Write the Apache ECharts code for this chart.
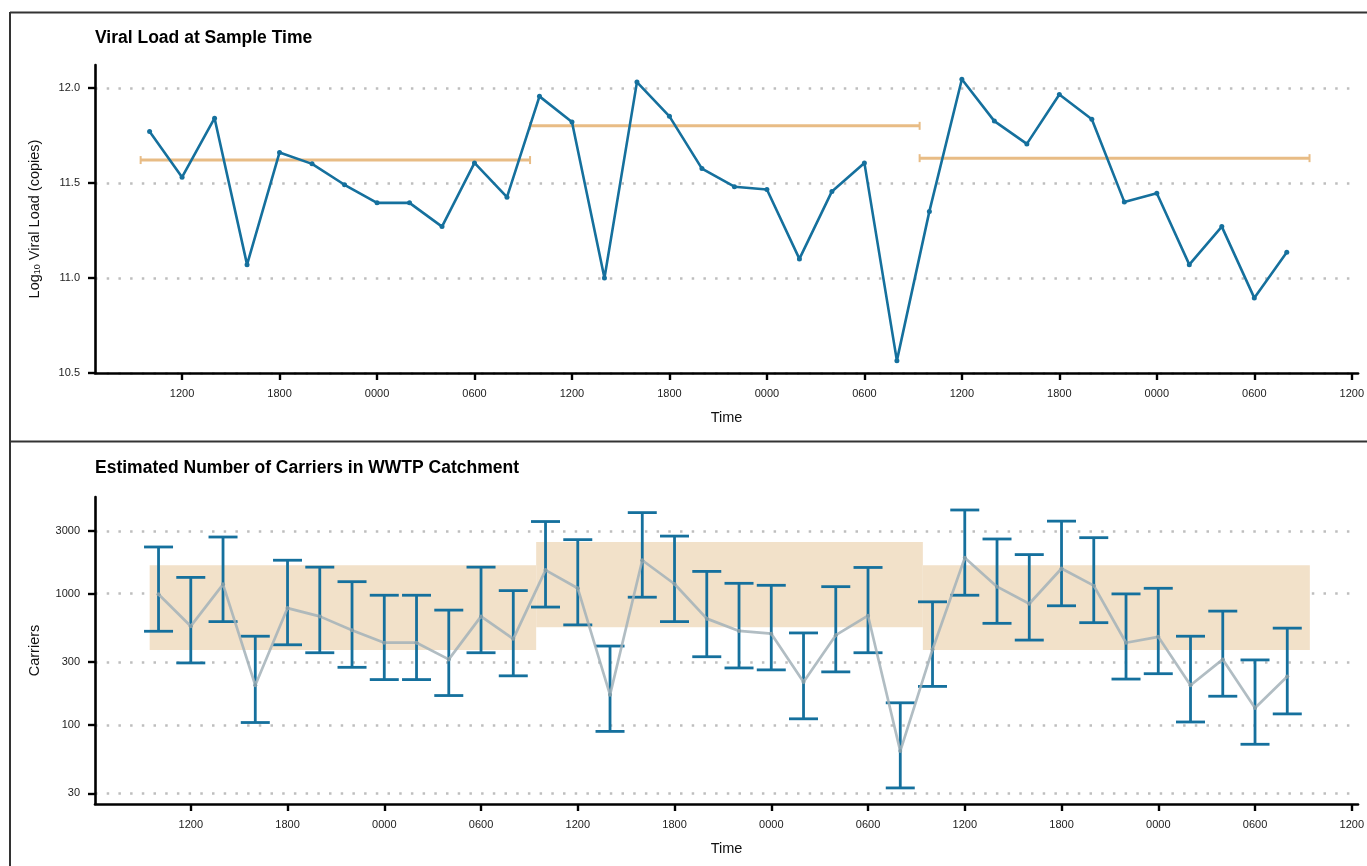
<!DOCTYPE html>
<html>
<head>
<meta charset="utf-8">
<script src="https://cdn.jsdelivr.net/npm/echarts@6/dist/echarts.min.js"></script>
<style>
html,body{margin:0;padding:0;background:#fff;}
#chart{width:1367px;height:866px;}
</style>
</head>
<body>
<div id="chart"></div>
<script>
// Sample times in hours from midnight of day 1
var sampleHours = [10,12,14,16,18,20,22,24,26,28,30,32,34,36,38,40,42,44,46,48,50,52,54,56,58,60,62,64,66,68,70,72,74,76,78,80];
// Top panel: log10 viral load
var viralLoad = [11.77,11.53,11.84,11.07,11.66,11.60,11.49,11.395,11.395,11.27,11.605,11.425,11.955,11.82,11.00,12.03,11.85,11.575,11.48,11.465,11.10,11.455,11.605,10.565,11.35,12.045,11.825,11.705,11.965,11.835,11.40,11.445,11.07,11.27,10.895,11.135];
// 24 h windows and their mean viral load
var windowStart = [9.45, 33.42, 57.4];
var windowEnd = [33.42, 57.4, 81.4];
var windowMean = [11.62, 11.80, 11.63];
// Bottom panel: estimated carriers and interval
var carriers = [989,564,1176,200,775,670,525,422,422,315,670,452,1510,1097,169,1795,1183,644,519,495,212,482,678,63,375,1871,1129,836,1553,1149,422,468,200,315,134,233];
var carriersLow = [516,296,611,104,407,354,274,221,221,167,354,236,789,577,89,938,611,330,271,262,111,253,354,33,196,971,593,442,807,600,223,245,105,165,71,121];
var carriersHigh = [2265,1328,2698,473,1795,1590,1232,971,971,748,1590,1053,3540,2576,398,4140,2742,1475,1197,1156,501,1129,1581,147,865,4335,2606,1982,3565,2667,994,1097,473,735,312,545];
var bandLow = [371, 553, 371];
var bandHigh = [1640, 2470, 1645];
// Tick values
var timeTicks = [12,18,24,30,36,42,48,54,60,66,72,78,84];
var vlTicks = [10.5, 11.0, 11.5, 12.0];
var carrierTicks = [30, 100, 300, 1000, 3000];

var BLUE = '#15709D';
var ORANGE = '#E8BC85';
var BAND = '#F2E1C9';
var GRAY = 'rgba(163,178,184,0.85)';
var FONT = '"Liberation Sans", Arial, sans-serif';

function lg(v){ return Math.log10(v); }
function hourLabel(v){
  var h = Math.round(v) % 24;
  var s = String(h * 100);
  while (s.length < 4) s = '0' + s;
  return s;
}

var gridLine = {show:true, lineStyle:{color:'#BEBEBE', width:2.5, type:[2.5, 9.2]}};
var axLine = {show:true, onZero:false, lineStyle:{color:'#000', width:2.6}};
var axTick = {show:true, length:7, lineStyle:{color:'#000', width:2.4}};
var tickLabel = {color:'#222', fontSize:11, fontFamily:FONT};
var nameStyle = {color:'#111', fontSize:14.5, fontFamily:FONT};

function xAxisCfg(gi, min){
  return {
    type:'value', gridIndex:gi, min:min, max:84.39,
    name:'Time', nameLocation:'middle', nameGap:37, nameTextStyle:nameStyle,
    axisLine:axLine,
    axisTick:Object.assign({customValues:timeTicks}, axTick),
    axisLabel:Object.assign({customValues:timeTicks, margin:15, formatter:hourLabel}, tickLabel),
    splitLine:{show:false}
  };
}

var errorData = sampleHours.map(function(t,i){ return [t, lg(carriersLow[i]), lg(carriersHigh[i])]; });
var bandData = windowStart.map(function(s,i){ return [s, windowEnd[i], lg(bandLow[i]), lg(bandHigh[i])]; });
var meanData = windowStart.map(function(s,i){ return [s, windowEnd[i], windowMean[i]]; });

var option = {
  animation:false,
  backgroundColor:'#fff',
  title:[
    {text:'Viral Load at Sample Time', left:95, top:29, padding:0,
     textStyle:{fontSize:17.5, fontWeight:'bold', color:'#000', fontFamily:FONT}},
    {text:'Estimated Number of Carriers in WWTP Catchment', left:95, top:459, padding:0,
     textStyle:{fontSize:17.5, fontWeight:'bold', color:'#000', fontFamily:FONT}}
  ],
  grid:[
    {left:95, right:8, top:65, height:308},
    {left:95, right:8, top:497, height:307}
  ],
  xAxis:[ xAxisCfg(0, 6.64), xAxisCfg(1, 6.06) ],
  yAxis:[
    {type:'value', gridIndex:0, min:10.5, max:12.12,
     name:'Log{sub|10} Viral Load (copies)', nameLocation:'middle', nameGap:53,
     nameTextStyle:Object.assign({rich:{sub:{fontSize:9, verticalAlign:'bottom', padding:[6,0,0,0], fontFamily:FONT, color:'#111'}}}, nameStyle),
     axisLine:axLine,
     axisTick:Object.assign({customValues:vlTicks}, axTick),
     axisLabel:Object.assign({customValues:vlTicks, margin:15, formatter:function(v){return v.toFixed(1);}}, tickLabel),
     splitLine:gridLine},
    {type:'value', gridIndex:1, min:1.396, max:3.736,
     name:'Carriers', nameLocation:'middle', nameGap:53, nameTextStyle:nameStyle,
     axisLine:axLine,
     axisTick:Object.assign({customValues:carrierTicks.map(lg)}, axTick),
     axisLabel:Object.assign({customValues:carrierTicks.map(lg), margin:15, formatter:function(v){return String(Math.round(Math.pow(10,v)));}}, tickLabel),
     splitLine:gridLine}
  ],
  series:[
    {type:'custom', xAxisIndex:0, yAxisIndex:0, z:3, data:meanData,
     encode:{x:[0,1], y:2},
     renderItem:function(params, api){
       var a = api.coord([api.value(0), api.value(2)]);
       var b = api.coord([api.value(1), api.value(2)]);
       var st = {stroke:ORANGE, lineWidth:3, fill:null};
       var st2 = {stroke:ORANGE, lineWidth:2, fill:null};
       return {type:'group', children:[
         {type:'line', shape:{x1:a[0], y1:a[1], x2:b[0], y2:b[1]}, style:st},
         {type:'line', shape:{x1:a[0], y1:a[1]-4, x2:a[0], y2:a[1]+4}, style:st2},
         {type:'line', shape:{x1:b[0], y1:b[1]-4, x2:b[0], y2:b[1]+4}, style:st2}
       ]};
     }},
    {type:'line', xAxisIndex:0, yAxisIndex:0, z:4,
     data:sampleHours.map(function(t,i){return [t, viralLoad[i]];}),
     lineStyle:{color:BLUE, width:2.6}, itemStyle:{color:BLUE},
     symbol:'circle', symbolSize:5, showSymbol:true},
    {type:'custom', xAxisIndex:1, yAxisIndex:1, z:1, data:bandData,
     encode:{x:[0,1], y:[2,3]},
     renderItem:function(params, api){
       var a = api.coord([api.value(0), api.value(3)]);
       var b = api.coord([api.value(1), api.value(2)]);
       return {type:'rect', shape:{x:a[0], y:a[1], width:b[0]-a[0], height:b[1]-a[1]}, style:{fill:BAND}};
     }},
    {type:'custom', xAxisIndex:1, yAxisIndex:1, z:3, data:errorData,
     encode:{x:0, y:[1,2]},
     renderItem:function(params, api){
       var lo = api.coord([api.value(0), api.value(1)]);
       var hi = api.coord([api.value(0), api.value(2)]);
       var hw = 14.5;
       var st = {stroke:BLUE, lineWidth:2.8, fill:null};
       return {type:'group', children:[
         {type:'line', shape:{x1:lo[0], y1:lo[1], x2:hi[0], y2:hi[1]}, style:st},
         {type:'line', shape:{x1:lo[0]-hw, y1:lo[1], x2:lo[0]+hw, y2:lo[1]}, style:st},
         {type:'line', shape:{x1:hi[0]-hw, y1:hi[1], x2:hi[0]+hw, y2:hi[1]}, style:st}
       ]};
     }},
    {type:'line', xAxisIndex:1, yAxisIndex:1, z:5,
     data:sampleHours.map(function(t,i){return [t, lg(carriers[i])];}),
     lineStyle:{color:GRAY, width:2.7}, itemStyle:{color:'#7F9CA8'},
     symbol:'circle', symbolSize:4, showSymbol:true}
  ],
  graphic:[
    {type:'line', shape:{x1:10, y1:12.5, x2:1367, y2:12.5}, style:{stroke:'#333', lineWidth:2}, silent:true},
    {type:'line', shape:{x1:10, y1:12, x2:10, y2:866}, style:{stroke:'#333', lineWidth:2}, silent:true},
    {type:'line', shape:{x1:10, y1:441.5, x2:1367, y2:441.5}, style:{stroke:'#333', lineWidth:2.2}, silent:true}
  ]
};

var chart = echarts.init(document.getElementById('chart'), null, {renderer:'canvas'});
chart.setOption(option);
</script>
</body>
</html>
